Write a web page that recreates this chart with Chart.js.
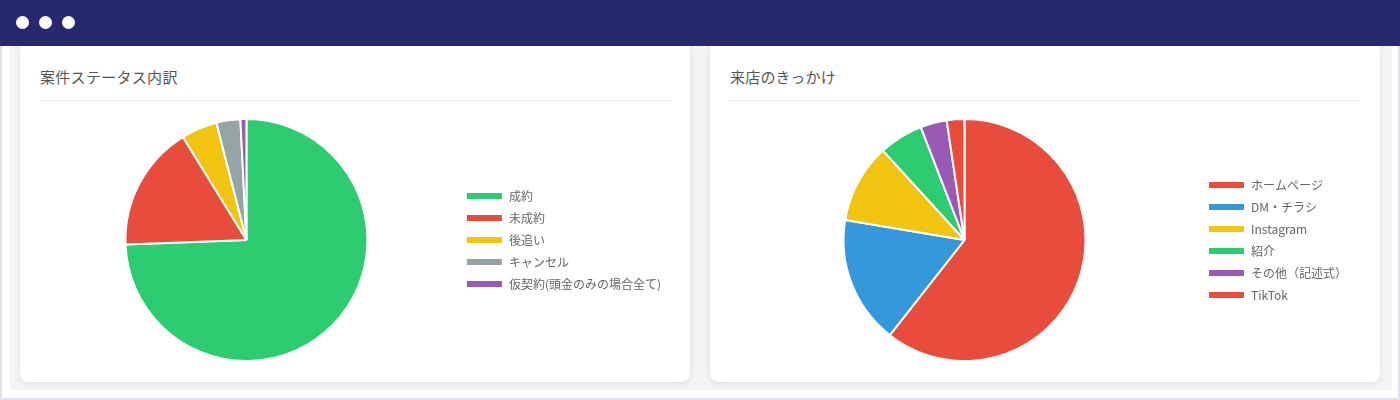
<!DOCTYPE html>
<html>
<head>
<meta charset="utf-8">
<script src="https://cdn.jsdelivr.net/npm/chart.js@4"></script>
<style>
  html,body{margin:0;padding:0;}
  body{width:1400px;height:400px;position:relative;overflow:hidden;background:#fff;font-family:"Noto Sans CJK JP","Noto Sans",sans-serif;}
  .frame{position:absolute;left:0;top:0;width:1396px;height:396px;border:2px solid #dfe1ee;background:#fff;}
  .bg{position:absolute;left:10px;top:45px;width:1382px;height:345px;background:#f3f3f4;}
  .nav{position:absolute;left:0;top:0;width:1400px;height:46px;background:#27296f;}
  .dot{position:absolute;top:16px;width:13px;height:13px;border-radius:50%;background:#fff;}
  .card{position:absolute;top:46px;height:336px;background:#fff;border-radius:0 0 8px 8px;box-shadow:0 1px 5px rgba(0,0,0,0.10);}
  .title{position:absolute;top:20px;left:20px;font-size:15px;color:#555;letter-spacing:0.3px;}
  .hr{position:absolute;top:54px;left:20px;right:20px;height:1px;background:#efefef;}
  .cv{position:absolute;}
</style>
</head>
<body>
<div class="frame"></div>
<div class="bg"></div>
<div class="nav">
  <div class="dot" style="left:16px"></div>
  <div class="dot" style="left:39px"></div>
  <div class="dot" style="left:62px"></div>
</div>
<div class="card" style="left:20px;width:670px;">
  <div class="title">案件ステータス内訳</div>
  <div class="hr"></div>
</div>
<div class="card" style="left:710px;width:670px;">
  <div class="title">来店のきっかけ</div>
  <div class="hr"></div>
</div>
<div class="cv" style="left:37px;top:118px;width:634px;height:244px;"><canvas id="c1"></canvas></div>
<div class="cv" style="left:731px;top:118px;width:626px;height:244px;"><canvas id="c2"></canvas></div>
<script>
const statusLabels = ["成約", "未成約", "後追い", "キャンセル", "仮契約(頭金のみの場合全て)"];
const statusValues = [93, 21, 6, 4, 1];
const statusColors = ["#2ecc71", "#e74c3c", "#f1c40f", "#95a5a6", "#9b59b6"];

const visitLabels = ["ホームページ", "DM・チラシ", "Instagram", "紹介", "その他（記述式）", "TikTok"];
const visitValues = [103, 29, 18, 10, 6, 4];
const visitColors = ["#e74c3c", "#3498db", "#f1c40f", "#2ecc71", "#9b59b6", "#e74c3c"];

Chart.defaults.font.family = '"Noto Sans CJK JP","Noto Sans",sans-serif';

function makePie(id, labels, values, colors) {
  new Chart(document.getElementById(id), {
    type: 'pie',
    data: {
      labels: labels,
      datasets: [{
        data: values,
        backgroundColor: colors,
        borderColor: '#ffffff',
        borderWidth: 2
      }]
    },
    options: {
      responsive: true,
      maintainAspectRatio: false,
      animation: false,
      layout: { padding: 0 },
      plugins: {
        tooltip: { enabled: false },
        legend: {
          position: 'right',
          labels: {
            boxWidth: 37,
            boxHeight: 8,
            padding: 10,
            color: '#666',
            font: { size: 12 }
          }
        }
      }
    }
  });
}
makePie('c1', statusLabels, statusValues, statusColors);
makePie('c2', visitLabels, visitValues, visitColors);
</script>
</body>
</html>
